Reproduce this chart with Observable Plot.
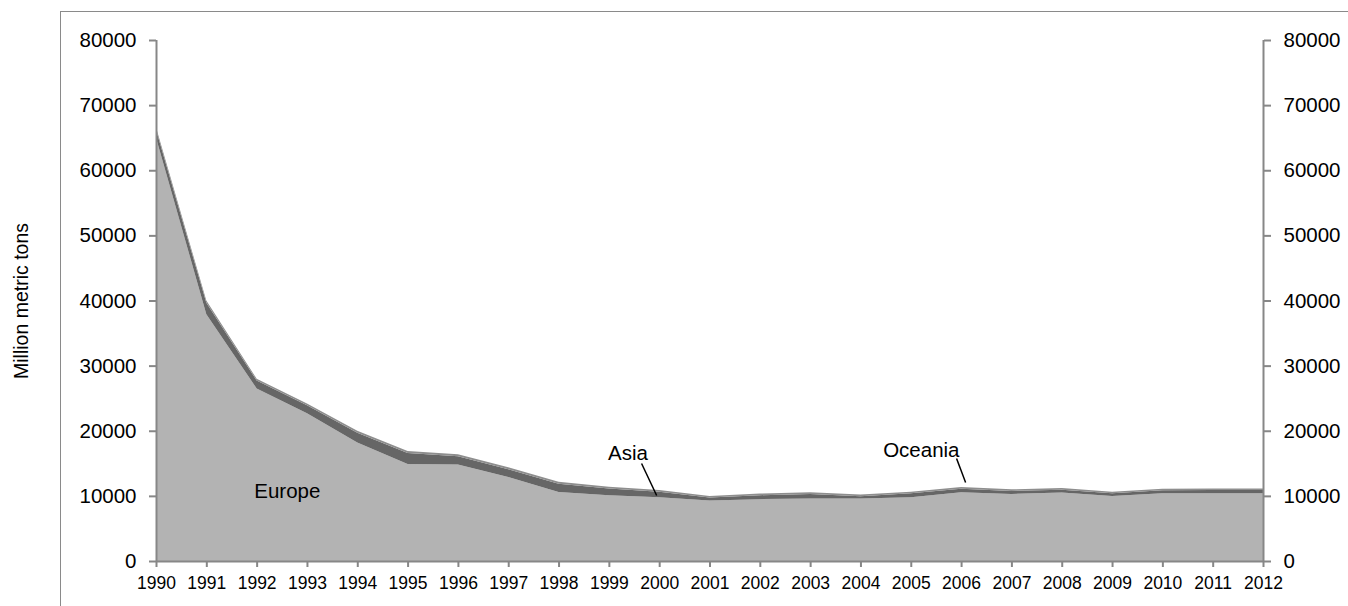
<!DOCTYPE html>
<html>
<head>
<meta charset="utf-8">
<script src="https://cdn.jsdelivr.net/npm/d3@7"></script>
<script src="https://cdn.jsdelivr.net/npm/@observablehq/plot@0.6"></script>
<style>
  html, body { margin: 0; padding: 0; background: #fff; }
  #wrap { position: relative; width: 1348px; height: 606px; overflow: hidden; }
  #frame { position: absolute; left: 60px; top: 10.5px; width: 1400px; height: 700px;
           border-top: 1.5px solid #8a8a8a; border-left: 1.5px solid #8a8a8a; }
  #chart { position: absolute; left: 0; top: 0; }
</style>
</head>
<body>
<div id="wrap"><div id="frame"></div><div id="chart"></div></div>
<script>
const years = [1990, 1991, 1992, 1993, 1994, 1995, 1996, 1997, 1998, 1999, 2000, 2001,
               2002, 2003, 2004, 2005, 2006, 2007, 2008, 2009, 2010, 2011, 2012];
const europe  = [65000, 37900, 26500, 22700, 18200, 14900, 14800, 12900, 10600, 10100, 9800, 9300,
                 9500, 9600, 9600, 9800, 10550, 10300, 10500, 10000, 10400, 10400, 10400];
const asia    = [1200, 1750, 1200, 1200, 1500, 1700, 1300, 1200, 1250, 1050, 850, 450,
                 600, 700, 350, 600, 550, 450, 450, 400, 450, 500, 500];
const oceania = [400, 350, 300, 300, 300, 300, 300, 300, 300, 250, 250, 250,
                 250, 250, 250, 250, 250, 250, 250, 250, 250, 250, 250];
const regions = ["Europe", "Asia", "Oceania"];
const regionColors = ["#b3b3b3", "#666666", "#8e8e8e"];
const yTicks = [0, 10000, 20000, 30000, 40000, 50000, 60000, 70000, 80000];
const yLabel = "Million metric tons";

// annotation labels (data coordinates)
const labelNames = ["Europe", "Asia", "Oceania"];
const labelX = [1992.6, 1999.37, 2005.2];
const labelY = [10750, 16540, 17000];
// leader lines
const leaderX1 = [1999.64, 2005.9];
const leaderY1 = [15050, 15820];
const leaderX2 = [1999.94, 2006.08];
const leaderY2 = [10130, 12130];

const series = [europe, asia, oceania];
const data = [];
regions.forEach((r, i) => years.forEach((y, j) => data.push({year: y, region: r, value: series[i][j]})));
const labels = labelNames.map((n, i) => ({name: n, x: labelX[i], y: labelY[i]}));
const leaders = leaderX1.map((x, i) => ({x1: x, y1: leaderY1[i], x2: leaderX2[i], y2: leaderY2[i]}));

const axisGray = "#878787";
const chart = Plot.plot({
  width: 1348,
  height: 606,
  marginLeft: 156,
  marginRight: 85,
  marginTop: 40,
  marginBottom: 45,
  style: {fontFamily: "'Liberation Sans', Arial, sans-serif", color: "#000", background: "transparent"},
  x: {domain: [1990, 2012]},
  y: {domain: [0, 80000]},
  color: {domain: regions, range: regionColors},
  marks: [
    Plot.areaY(data, {x: "year", y: "value", fill: "region", order: regions}),
    Plot.ruleX([1990, 2012], {stroke: axisGray, strokeWidth: 2}),
    Plot.ruleY([0], {stroke: axisGray, strokeWidth: 2}),
    Plot.axisY({anchor: "left", ticks: yTicks, tickFormat: d => String(d), tickSize: 7, tickPadding: 13,
                fontSize: 20.5, stroke: axisGray, strokeWidth: 2, label: null}),
    Plot.axisY({anchor: "right", ticks: yTicks, tickFormat: d => String(d), tickSize: 7, tickPadding: 13,
                fontSize: 20.5, stroke: axisGray, strokeWidth: 2, label: null}),
    Plot.axisX({anchor: "bottom", ticks: years, tickFormat: d => String(d), tickSize: 6, tickPadding: 9,
                fontSize: 17.5, stroke: axisGray, strokeWidth: 2, label: null}),
    Plot.text([yLabel], {frameAnchor: "left", rotate: -90, dx: -135, fontSize: 19.5, textAnchor: "middle", fill: "#000"}),
    Plot.link(leaders, {x1: "x1", y1: "y1", x2: "x2", y2: "y2", stroke: "#000", strokeWidth: 1.5}),
    Plot.text(labels, {x: "x", y: "y", text: "name", fontSize: 20.5, textAnchor: "middle", fill: "#000"})
  ]
});
document.getElementById("chart").appendChild(chart);
</script>
</body>
</html>
